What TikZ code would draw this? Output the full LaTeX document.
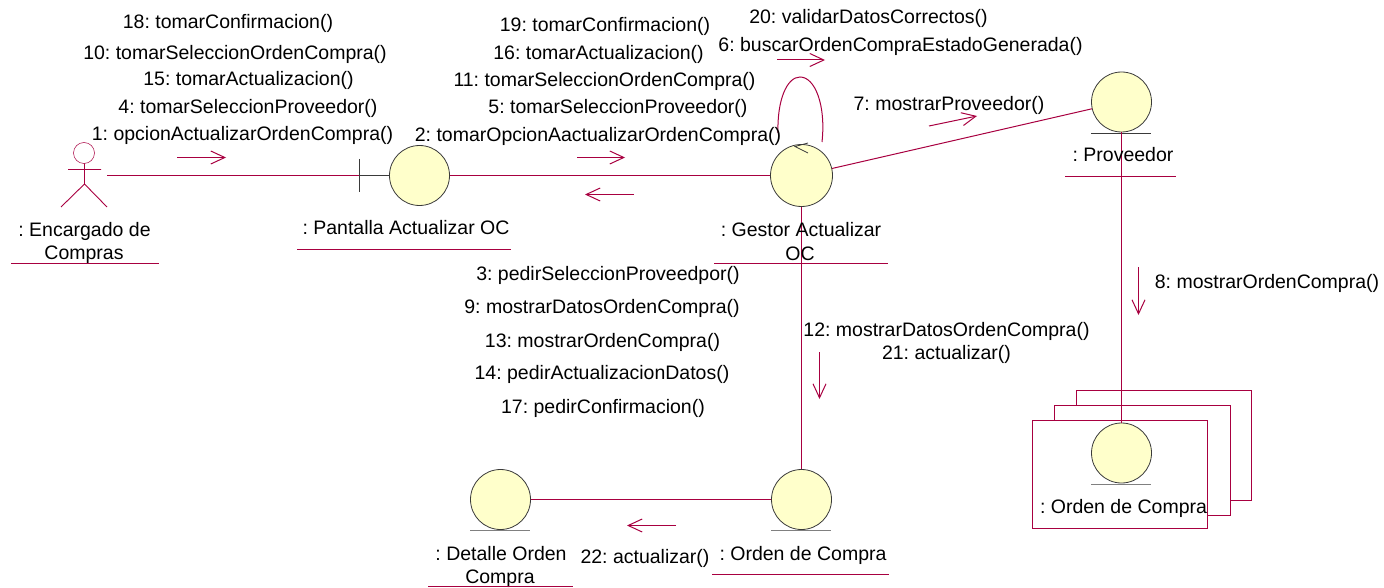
\documentclass[tikz,border=0pt]{standalone}
\usepackage{fontspec}
\setmainfont{Liberation Sans}
\usetikzlibrary{arrows.meta}
\definecolor{umlred}{HTML}{A80040}
\definecolor{umlfill}{HTML}{FFFFCB}
\definecolor{umldark}{HTML}{3A3A3A}
\tikzset{
  lbl/.style={inner sep=0pt,anchor=base,font=\fontsize{19.5}{22}\selectfont\frenchspacing},
  ent/.style={circle,draw=umldark,fill=umlfill,line width=0.8pt,minimum size=60pt,inner sep=0pt},
  assoc/.style={draw=umlred,line width=1pt},
  baseline rule/.style={draw=umldark,line width=1pt},
  msg/.style={draw=umlred,line width=1pt,-{Straight Barb[length=14pt,width=13pt,line width=1pt]}},
  multi/.style={draw=umlred,line width=1pt,fill=white}
}
\begin{document}
\begin{tikzpicture}[x=1pt,y=-1pt]
\useasboundingbox (0,0) rectangle (1384,588);
% multi-object stack
\draw[multi] (1076.5,390.5) rectangle (1251.5,500.5);
\draw[multi] (1054.5,405.5) rectangle (1230.5,515.5);
\draw[multi] (1032.5,420.5) rectangle (1207.5,528.5);
% entity and boundary circles
\node[ent] (pant) at (419.5,175.5) {};
\node[ent,minimum size=62pt] (gest) at (801.5,175.5) {};
\node[ent] (prov) at (1121.5,102) {};
\node[ent] (ordc) at (1121.5,453) {};
\node[ent] (det) at (500.5,499.5) {};
\node[ent] (ordb) at (801.5,499.5) {};
% baselines of the entities
\draw[baseline rule] (1091,133.5) -- (1151,133.5);
\draw[baseline rule,draw=gray] (1091,484.5) -- (1151,484.5);
\draw[baseline rule,draw=gray] (470,530.5) -- (530,530.5);
\draw[baseline rule,draw=gray] (771,530.5) -- (831,530.5);
% actor
\draw[draw=umlred,line width=0.5pt] (84,153) circle (10.5);
\draw[draw=umlred,line width=0.9pt] (68,169.5) -- (101,169.5) (84.5,163.5) -- (84.5,184) -- (61,207) (84.5,184) -- (107,207);
\coordinate (actend) at (107,175.5);
\coordinate (tick) at (359.5,175.5);
\coordinate (ticktop) at (359.5,159);
\coordinate (tickbot) at (359.5,192);
% associations
\draw[assoc] (actend) -- (tick);
\draw[baseline rule] (tick) -- (pant);
\draw[baseline rule] (ticktop) -- (tickbot);
\draw[assoc] (pant) -- (gest);
\draw[assoc] (gest) -- (prov);
\draw[assoc] (prov) -- (ordc);
\draw[assoc] (gest) -- (ordb);
\draw[assoc] (det) -- (ordb);
% self loop
\coordinate (la) at (822,142);
\coordinate (lb) at (778,133);
\draw[assoc] (la) .. controls (826,105) and (815,77) .. (800,77) .. controls (787,77) and (777,100) .. (lb);
\coordinate (lt) at (795,146.5);
\coordinate (lu) at (808,143);
\coordinate (lv) at (808,153);
\draw[draw=umldark,line width=0.8pt] (lu) -- (lt) -- (lv);
% message arrows
\foreach \n/\ax/\ay/\bx/\by in {m1/177/157.5/226/157.5,m2/577/157.5/625/157.5,m3/634/194.5/585/194.5,m6/777/60/825/60,m7/929/126/977/116,m8/1138.5/267/1138.5/315,m12/819.5/352/819.5/399,m22/676/525.5/627/525.5}{
  \coordinate (\n a) at (\ax,\ay);
  \coordinate (\n b) at (\bx,\by);
  \draw[msg] (\n a) -- (\n b);
}
% message labels
\node[lbl] (t18) at (228,28.3) {18: tomarConfirmacion()};
\node[lbl] (t10) at (235,59.3) {10: tomarSeleccionOrdenCompra()};
\node[lbl] (t15) at (248.5,86) {15: tomarActualizacion()};
\node[lbl] (t4) at (248,113.3) {4: tomarSeleccionProveedor()};
\node[lbl] (t1) at (242.5,140.5) {1: opcionActualizarOrdenCompra()};
\node[lbl] (t2) at (598,141.7) {2: tomarOpcionAactualizarOrdenCompra()};
\node[lbl] (t5) at (618,114) {5: tomarSeleccionProveedor()};
\node[lbl] (t11) at (604.5,86.7) {11: tomarSeleccionOrdenCompra()};
\node[lbl] (t16) at (598.5,59.3) {16: tomarActualizacion()};
\node[lbl] (t19) at (605,31.7) {19: tomarConfirmacion()};
\node[lbl] (t20) at (868.5,23.3) {20: validarDatosCorrectos()};
\node[lbl] (t6) at (900.5,51.7) {6: buscarOrdenCompraEstadoGenerada()};
\node[lbl] (t7) at (949,111) {7: mostrarProveedor()};
\node[lbl] (t8) at (1267,288.5) {8: mostrarOrdenCompra()};
\node[lbl] (t3) at (608,280) {3: pedirSeleccionProveedpor()};
\node[lbl] (t9) at (602,313) {9: mostrarDatosOrdenCompra()};
\node[lbl] (t13) at (602.5,347) {13: mostrarOrdenCompra()};
\node[lbl] (t14) at (602,379) {14: pedirActualizacionDatos()};
\node[lbl] (t17) at (603,413) {17: pedirConfirmacion()};
\node[lbl] (t12) at (946.5,336.5) {12: mostrarDatosOrdenCompra()};
\node[lbl] (t21) at (946.5,359.5) {21: actualizar()};
\node[lbl] (t22) at (645,563.3) {22: actualizar()};
% object names
\node[lbl] (n1a) at (84.5,236.7) {: Encargado de};
\node[lbl] (n1b) at (84,259.5) {Compras};
\node[lbl] (n2) at (406,235) {: Pantalla Actualizar OC};
\node[lbl] (n3a) at (801,236.7) {: Gestor Actualizar};
\node[lbl] (n3b) at (800,260.7) {OC};
\node[lbl] (n4) at (1123,161.7) {: Proveedor};
\node[lbl] (n5) at (1123.5,513.3) {: Orden de Compra};
\node[lbl] (n6a) at (501,560) {: Detalle Orden};
\node[lbl] (n6b) at (500,583) {Compra};
\node[lbl] (n7) at (803,560) {: Orden de Compra};
% name underlines
\draw[assoc] (11,263.5) -- (159,263.5);
\draw[assoc] (297,249.5) -- (511,249.5);
\draw[assoc] (714,263.5) -- (888,263.5);
\draw[assoc] (1065,176.5) -- (1176,176.5);
\draw[assoc] (428,586.5) -- (573,586.5);
\draw[assoc] (712,574.5) -- (889,574.5);
\end{tikzpicture}
\end{document}
